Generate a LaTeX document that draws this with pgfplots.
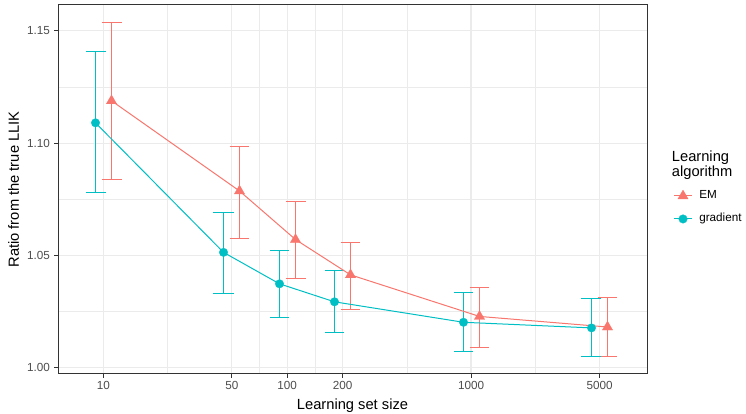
\documentclass[border=0pt]{standalone}
\usepackage{pgfplots}
\pgfplotsset{compat=1.18}
\usepackage{pgfplotstable}
\usepackage{fontspec}
\setmainfont{Liberation Sans}
\definecolor{emc}{HTML}{F8766D}
\definecolor{grc}{HTML}{00BFC4}
\definecolor{gridmaj}{HTML}{EBEBEB}
\definecolor{greyA}{HTML}{333333}
\definecolor{greyB}{HTML}{4D4D4D}
\newcommand{\ticksz}{\fontsize{11.7bp}{13bp}\selectfont}
\newcommand{\titlesz}{\fontsize{14.7bp}{15bp}\selectfont}

% gradient: x (dodged), mean
\pgfplotstableread{
x      y
9.0684 1.1090
45.05  1.0514
90.83  1.0374
180.87 1.0294
909.78 1.0203
4519.6 1.0178
}\gradtab

% EM
\pgfplotstableread{
x      y
11.081 1.1188
55.043 1.0787
110.99 1.0571
221.0  1.0414
1111.7 1.0229
5522.3 1.0182
}\emtab

\begin{document}
\begin{tikzpicture}
\path[use as bounding box] (0,0) rectangle (746bp,414bp);
\begin{axis}[
  at={(58bp,40bp)}, anchor=south west,
  scale only axis, width=589bp, height=369bp,
  xmode=log, xmin=5.67, xmax=9057, ymin=0.9973, ymax=1.1614,
  xtick={10,50,100,200,1000,5000}, xticklabels={10,50,100,200,1000,5000},
  minor xtick={22.36,70.71,141.42,447.21,2236.07},
  ytick={1.00,1.05,1.10,1.15}, yticklabels={1.00,1.05,1.10,1.15},
  minor ytick={1.025,1.075,1.125},
  grid=both,
  major grid style={gridmaj, line width=1.1bp},
  minor grid style={gridmaj, line width=0.55bp},
  xtick pos=bottom, ytick pos=left,
  tick align=outside, major tick length=3.7bp, minor tick length=0pt,
  tick style={greyA, line width=1bp},
  axis line style={greyA, line width=1bp},
  ticklabel style={font=\ticksz, text=greyB},
  yticklabel style={xshift=-1bp},
  xlabel={Learning set size},
  ylabel={Ratio from the true LLIK},
  every axis x label/.style={at={(axis description cs:0.5,0)}, anchor=north, yshift=-25bp, inner sep=0pt, font=\titlesz},
  every axis y label/.style={at={(axis description cs:-0.0755,0.5)}, anchor=center, rotate=90, inner sep=0pt, font=\titlesz},
  unbounded coords=jump,
  legend image code/.code={\draw[mark repeat=2, mark phase=2, #1] plot coordinates {(0bp,0bp) (9.2bp,0bp) (18.4bp,0bp)};},
  legend style={at={(axis description cs:1.0447,0.452)}, anchor=west, draw=none, fill=none,
    inner sep=0pt, outer sep=0pt, row sep=12bp, font=\ticksz,
    nodes={inner sep=0pt, text height=8.5bp, text depth=2.5bp}},
  legend cell align=left,
]
\addlegendimage{emc, line width=1bp, mark=triangle*, mark size=6bp, mark options={solid, fill=emc, draw=emc, line width=0.2bp}}
\addlegendentry{\hspace{6.6bp}EM}
\addlegendimage{grc, line width=1bp, mark=*, mark size=4.3bp, mark options={solid, fill=grc, draw=grc, line width=0.2bp}}
\addlegendentry{\hspace{6.6bp}gradient}

% error bars (EM): caps and whiskers
\addplot[forget plot, draw=emc, line width=1bp, mark=none] coordinates {
 (9.7771,1.0836) (12.559,1.0836) (11.081,nan) (11.081,1.0836) (11.081,1.1537) (11.081,nan) (9.7771,1.1537) (12.559,1.1537) (11.081,nan)
 (48.566,1.0575) (62.384,1.0575) (55.043,nan) (55.043,1.0575) (55.043,1.0986) (55.043,nan) (48.566,1.0986) (62.384,1.0986) (55.043,nan)
 (97.93,1.0398) (125.79,1.0398) (110.99,nan) (110.99,1.0398) (110.99,1.0738) (110.99,nan) (97.93,1.0738) (125.79,1.0738) (110.99,nan)
 (195.0,1.0258) (250.47,1.0258) (221.0,nan) (221.0,1.0258) (221.0,1.0560) (221.0,nan) (195.0,1.0560) (250.47,1.0560) (221.0,nan)
 (980.89,1.0090) (1259.9,1.0090) (1111.7,nan) (1111.7,1.0090) (1111.7,1.0356) (1111.7,nan) (980.89,1.0356) (1259.9,1.0356) (1111.7,nan)
 (4872.5,1.0049) (6258.8,1.0049) (5522.3,nan) (5522.3,1.0049) (5522.3,1.0314) (5522.3,nan) (4872.5,1.0314) (6258.8,1.0314)
};
% error bars (gradient)
\addplot[forget plot, draw=grc, line width=1bp, mark=none] coordinates {
 (8.0014,1.0780) (10.278,1.0780) (9.0684,nan) (9.0684,1.0780) (9.0684,1.1407) (9.0684,nan) (8.0014,1.1407) (10.278,1.1407) (9.0684,nan)
 (39.749,1.0332) (51.058,1.0332) (45.05,nan) (45.05,1.0332) (45.05,1.0692) (45.05,nan) (39.749,1.0692) (51.058,1.0692) (45.05,nan)
 (80.142,1.0225) (102.94,1.0225) (90.83,nan) (90.83,1.0225) (90.83,1.0523) (90.83,nan) (80.142,1.0523) (102.94,1.0523) (90.83,nan)
 (159.59,1.0156) (204.99,1.0156) (180.87,nan) (180.87,1.0156) (180.87,1.0434) (180.87,nan) (159.59,1.0434) (204.99,1.0434) (180.87,nan)
 (802.73,1.0073) (1031.1,1.0073) (909.78,nan) (909.78,1.0073) (909.78,1.0336) (909.78,nan) (802.73,1.0336) (1031.1,1.0336) (909.78,nan)
 (3987.8,1.0049) (5122.3,1.0049) (4519.6,nan) (4519.6,1.0049) (4519.6,1.0310) (4519.6,nan) (3987.8,1.0310) (5122.3,1.0310)
};

\addplot[forget plot, color=emc, line width=1bp, mark=triangle*, mark size=6bp,
  mark options={solid, fill=emc, draw=emc, line width=0.2bp}]
  table[x=x, y=y] {\emtab};
\addplot[forget plot, color=grc, line width=1bp, mark=*, mark size=4.3bp,
  mark options={solid, fill=grc, draw=grc, line width=0.2bp}]
  table[x=x, y=y] {\gradtab};
\end{axis}
\node[anchor=north west, align=left, inner sep=0pt, font=\titlesz] at (671.7bp,263.3bp) {Learning\\algorithm};
\end{tikzpicture}
\end{document}
